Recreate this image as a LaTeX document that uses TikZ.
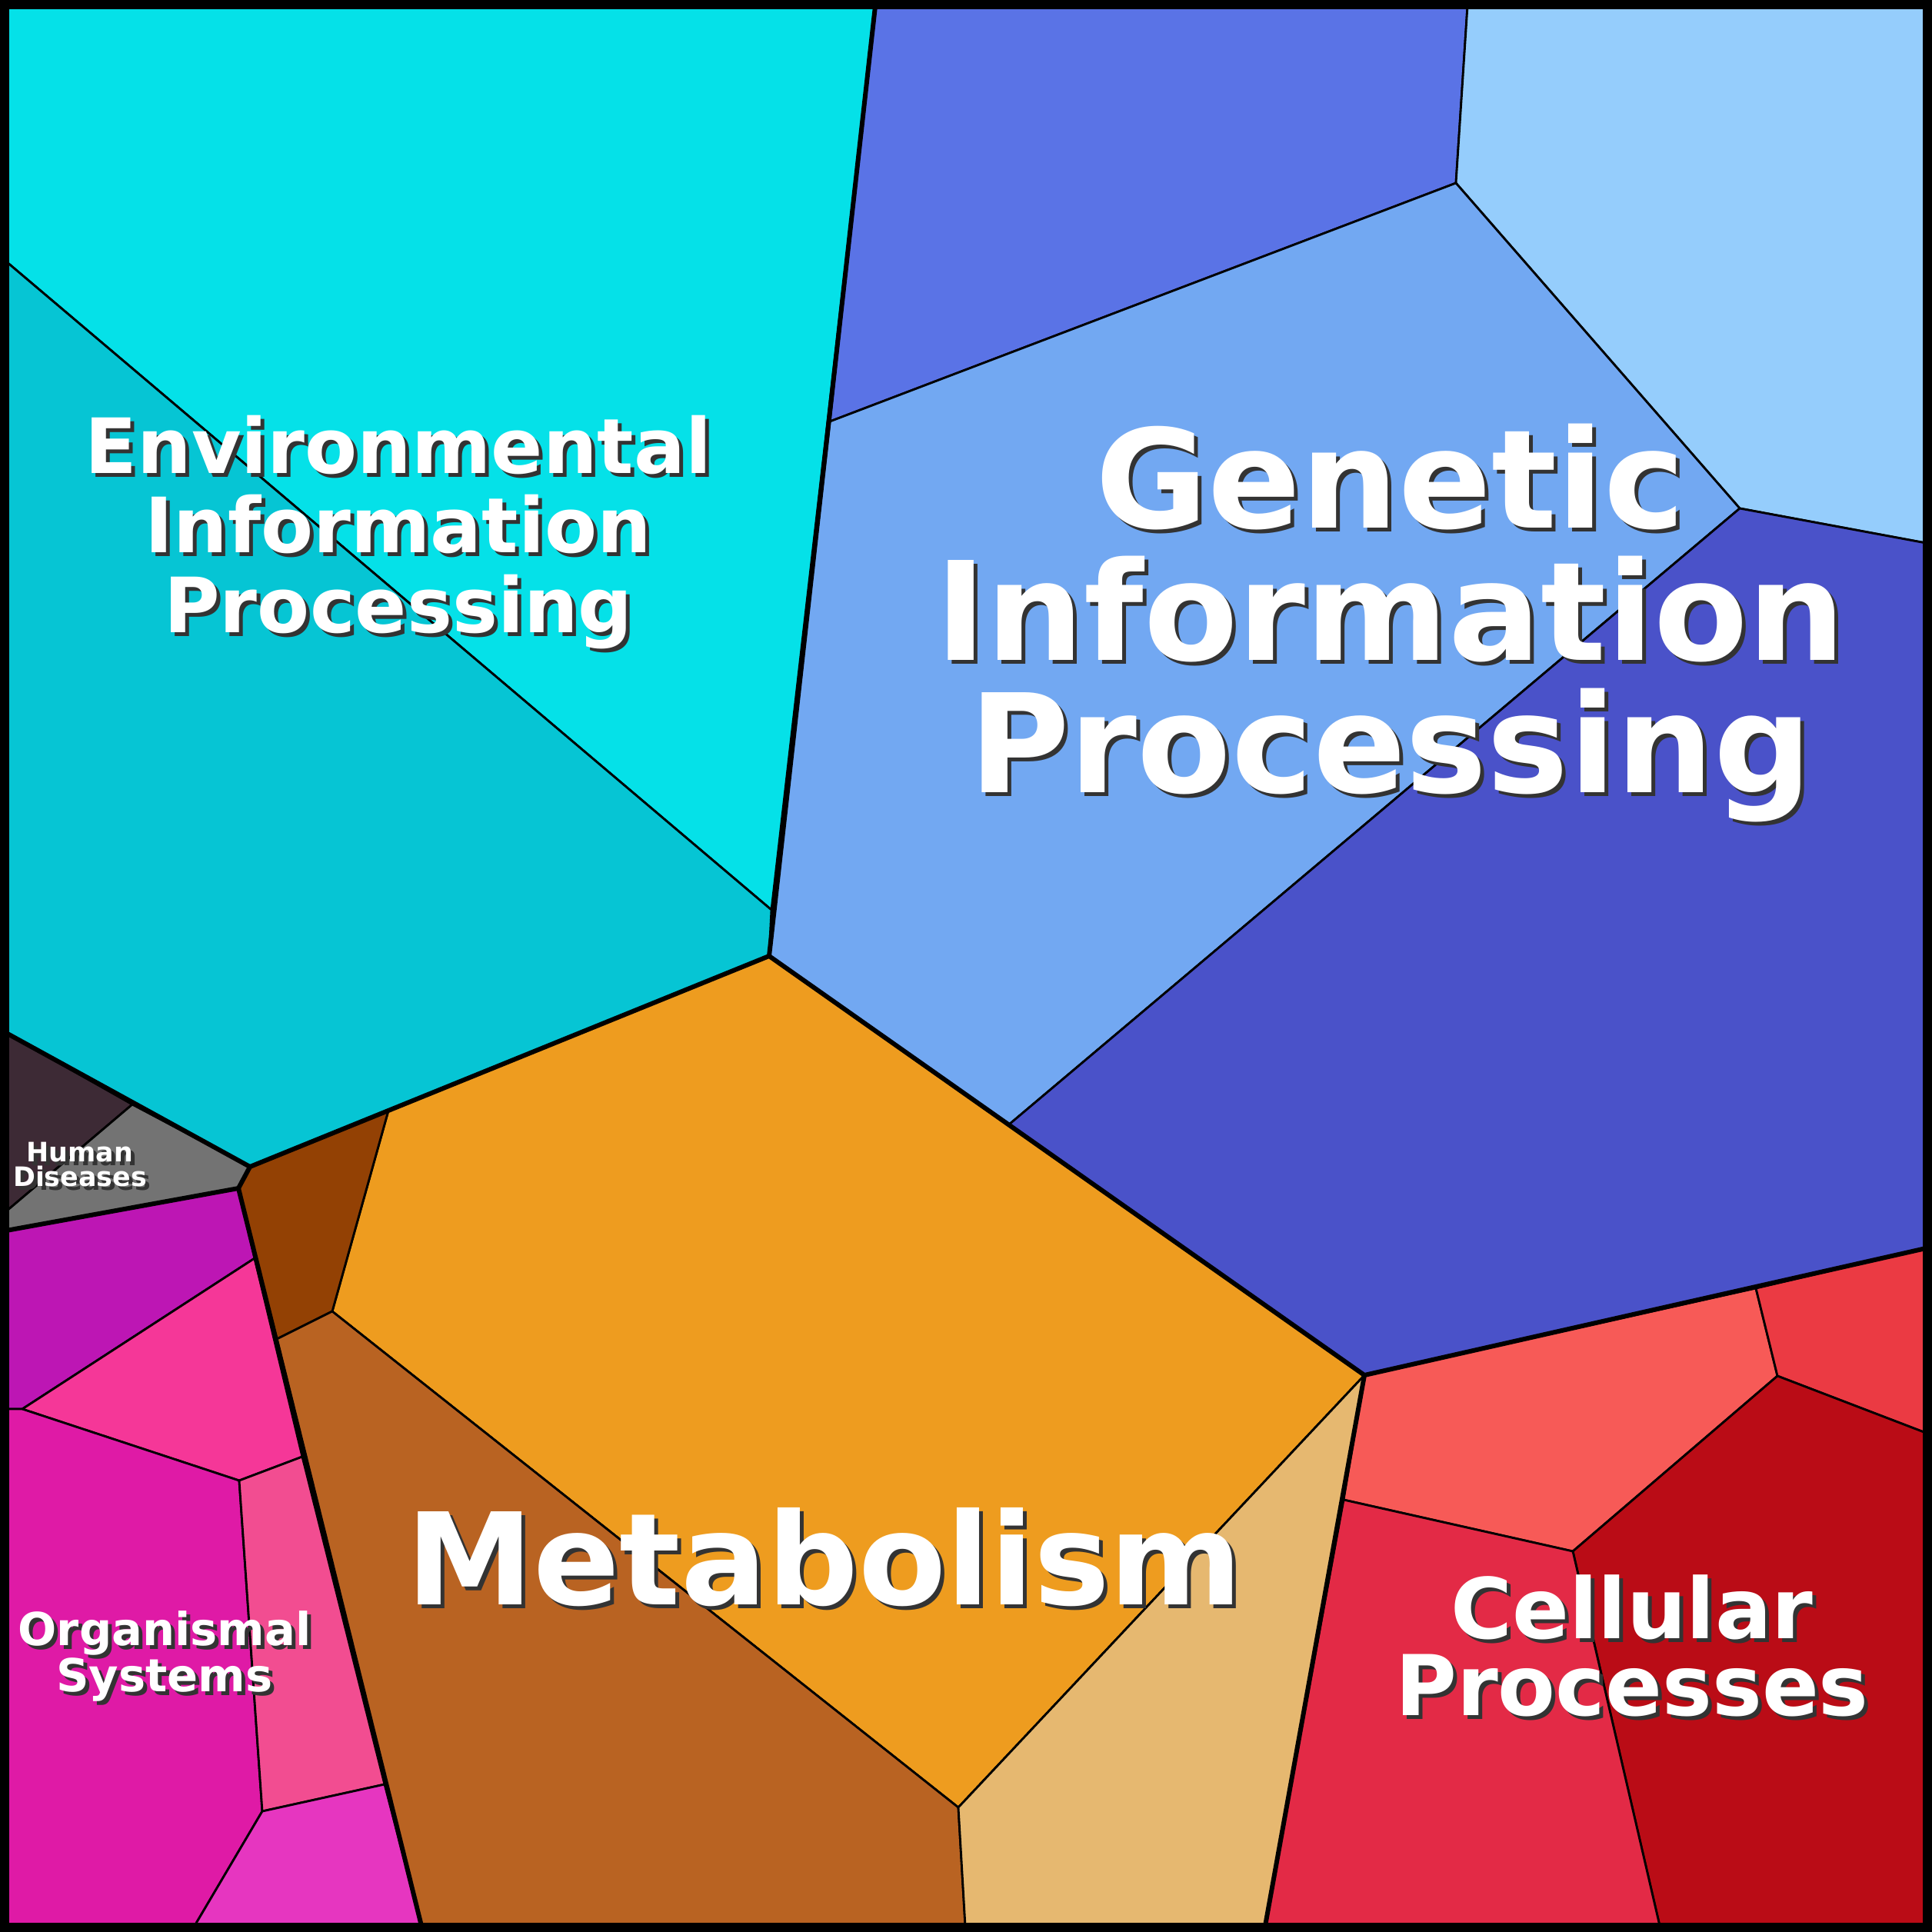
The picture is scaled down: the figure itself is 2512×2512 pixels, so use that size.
\documentclass[tikz,border=0pt]{standalone}
\usepackage{fontspec}
\setmainfont{DejaVu Sans}
\tikzset{
	cell/.style={draw=black, line width=0.8pt, line join=round},
	split/.style={draw=black, line width=1.7pt, line join=round},
	tag/.style={text=white, align=center, inner sep=0pt}
}
\definecolor{envA}{HTML}{05E1E8}
\definecolor{envB}{HTML}{06C5D4}
\definecolor{genA}{HTML}{5A73E6}
\definecolor{genB}{HTML}{95CDFC}
\definecolor{genC}{HTML}{72A8F2}
\definecolor{genD}{HTML}{4A52C9}
\definecolor{metA}{HTML}{EE9C1F}
\definecolor{metB}{HTML}{934104}
\definecolor{metC}{HTML}{B96322}
\definecolor{metD}{HTML}{E6B870}
\definecolor{humA}{HTML}{3D2A35}
\definecolor{humB}{HTML}{737373}
\definecolor{orgA}{HTML}{BD16B4}
\definecolor{orgB}{HTML}{F53798}
\definecolor{orgC}{HTML}{DF1AA6}
\definecolor{orgD}{HTML}{F24D91}
\definecolor{orgE}{HTML}{E636C0}
\definecolor{celA}{HTML}{F75A57}
\definecolor{celB}{HTML}{EB3A43}
\definecolor{celC}{HTML}{BA0C16}
\definecolor{celD}{HTML}{E32A46}
% shadowed white text
\newcommand{\shadowtext}[4]{%
	\node[tag, font=\bfseries#3, text=black!80] at ([shift={(5,5)}]#1) {#4};
	\node[tag, font=\bfseries#3] (#2) at (#1) {#4};}

\begin{document}
\begin{tikzpicture}[x=0.01cm, y=-0.01cm]
		\useasboundingbox (0,0) rectangle (2512,2512);
		% Environmental Information Processing
		\fill[envA, cell] (8,8) -- (1138,8) -- (1003,1183) -- (8,340) -- cycle;
		\fill[envB, cell] (8,340) -- (1003,1183) -- (1000,1243) -- (325,1517) -- (8,1343) -- cycle;

		% Genetic Information Processing
		\fill[genA, cell] (1138,8) -- (1908,8) -- (1893,238) -- (1079,548) -- cycle;
		\fill[genB, cell] (1908,8) -- (2504,8) -- (2504,706) -- (2262,661) -- (1893,238) -- cycle;
		\fill[genC, cell] (1079,548) -- (1893,238) -- (2262,661) -- (1312,1462) -- (1000,1243) -- cycle;
		\fill[genD, cell] (2262,661) -- (2504,706) -- (2504,1623) -- (1774,1788) -- (1312,1462) -- cycle;

		% Metabolism
		\fill[metA, cell] (505,1444) -- (1000,1243) -- (1774,1788) -- (1246,2350) -- (432,1705) -- cycle;
		\fill[metB, cell] (325,1517) -- (505,1444) -- (432,1705) -- (360,1741) -- (310,1545) -- cycle;
		\fill[metC, cell] (360,1741) -- (432,1705) -- (1246,2350) -- (1255,2504) -- (548,2504) -- cycle;
		\fill[metD, cell] (1246,2350) -- (1774,1788) -- (1645,2504) -- (1255,2504) -- cycle;

		% Human Diseases
		\fill[humA, cell] (8,1343) -- (172,1436) -- (8,1575) -- cycle;
		\fill[humB, cell] (172,1436) -- (325,1517) -- (310,1545) -- (8,1600) -- (8,1575) -- cycle;

		% Organismal Systems
		\fill[orgA, cell] (8,1600) -- (310,1545) -- (331,1636) -- (29,1832) -- (8,1832) -- cycle;
		\fill[orgB, cell] (29,1832) -- (331,1636) -- (393,1894) -- (311,1925) -- cycle;
		\fill[orgC, cell] (8,1832) -- (29,1832) -- (311,1925) -- (341,2355) -- (253,2504) -- (8,2504) -- cycle;
		\fill[orgD, cell] (311,1925) -- (393,1894) -- (500,2320) -- (341,2355) -- cycle;
		\fill[orgE, cell] (341,2355) -- (500,2320) -- (548,2504) -- (253,2504) -- cycle;

		% Cellular Processes
		\fill[celA, cell] (1774,1788) -- (2283,1675) -- (2311,1789) -- (2045,2017) -- (1747,1950) -- cycle;
		\fill[celB, cell] (2283,1675) -- (2504,1623) -- (2504,1863) -- (2311,1789) -- cycle;
		\fill[celC, cell] (2311,1789) -- (2504,1863) -- (2504,2504) -- (2158,2504) -- (2045,2017) -- cycle;
		\fill[celD, cell] (1747,1950) -- (2045,2017) -- (2158,2504) -- (1645,2504) -- cycle;

		% -----------------------------------------------------
		\draw[split] (1138,8) -- (1000,1243);
		\draw[split] (8,1343) -- (325,1517) -- (1000,1243) -- (1774,1788) -- (2504,1623);
		\draw[split] (1774,1788) -- (1645,2504);
		\draw[split] (8,1600) -- (310,1545) -- (325,1517);
		\draw[split] (310,1545) -- (548,2504);
		\draw[black, line width=3.4pt] (6,6) rectangle (2506,2506);

		% -----------------------------------------------------
		\shadowtext{518,692}{env}{\fontsize{28.2}{29.4}\selectfont}{Environmental\\Information\\Processing}
		\shadowtext{1808,810}{gen}{\fontsize{50.7}{49}\selectfont}{Genetic\\Information\\Processing}
		\shadowtext{1072,2025}{met}{\fontsize{47.2}{48}\selectfont}{Metabolism}
		\shadowtext{2122,2140}{cel}{\fontsize{31}{28.6}\selectfont}{Cellular\\Processes}
		\shadowtext{214,2153}{org}{\fontsize{16.8}{15}\selectfont}{Organismal\\Systems}
		\shadowtext{104,1514}{hum}{\fontsize{9.9}{9.1}\selectfont}{Human\\Diseases}
\end{tikzpicture}
\end{document}
